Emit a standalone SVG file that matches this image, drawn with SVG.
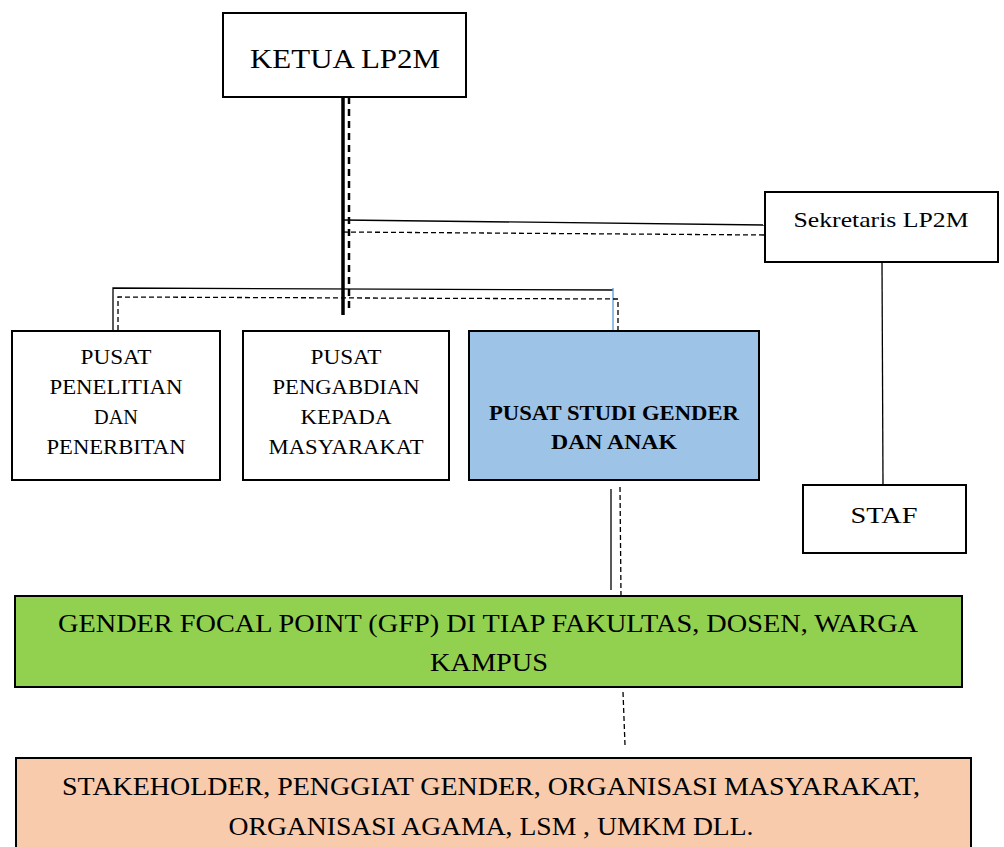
<svg xmlns="http://www.w3.org/2000/svg" width="1004" height="847" viewBox="0 0 1004 847">
<style>
.box{stroke:#000;stroke-width:2;fill:#fff}
.t{font-family:"Liberation Serif","DejaVu Serif",serif;fill:#000;text-anchor:middle}
.sl{stroke:#000;stroke-width:1.3;fill:none}
.dl{stroke:#000;stroke-width:1.3;fill:none;stroke-dasharray:5,3}
</style>
<rect width="1004" height="847" fill="#fff"/>
<g id="connectors">
<line x1="343" y1="97" x2="343" y2="315" stroke="#000" stroke-width="3.5"/>
<line x1="349" y1="97" x2="349" y2="313" stroke="#000" stroke-width="2.5" stroke-dasharray="7,5"/>
<line class="sl" x1="343" y1="220" x2="765" y2="225"/>
<line class="dl" x1="343" y1="232" x2="765" y2="235"/>
<polyline class="sl" points="113,330 113,288 613,290"/>
<line x1="613" y1="288" x2="613" y2="330" stroke="#5B9BD5" stroke-width="1.3"/>
<polyline class="dl" points="118,330 118,297 618,299 618,330"/>
<line class="sl" x1="882" y1="262" x2="883" y2="485"/>
<line class="sl" x1="611" y1="489" x2="611" y2="590"/>
<line class="dl" x1="620" y1="487" x2="621" y2="596"/>
<line class="dl" x1="623" y1="692" x2="625" y2="745"/>
</g>
<g id="ketua"><rect class="box" x="223" y="13" width="243" height="84"/><text class="t" x="345" y="68" font-size="28" textLength="190" lengthAdjust="spacingAndGlyphs">KETUA LP2M</text></g>
<g id="sekretaris"><rect class="box" x="765" y="192" width="233" height="70"/><text class="t" x="881" y="227" font-size="22" textLength="175" lengthAdjust="spacingAndGlyphs">Sekretaris LP2M</text></g>
<g id="staf"><rect class="box" x="803" y="485" width="163" height="68"/><text class="t" x="884" y="523" font-size="24" textLength="67" lengthAdjust="spacingAndGlyphs">STAF</text></g>
<g id="penelitian"><rect class="box" x="12" y="331" width="208" height="149"/><text class="t" font-size="20"><tspan x="116" y="364" textLength="71" lengthAdjust="spacingAndGlyphs">PUSAT</tspan><tspan x="116" y="394" textLength="133" lengthAdjust="spacingAndGlyphs">PENELITIAN</tspan><tspan x="116" y="424" textLength="44" lengthAdjust="spacingAndGlyphs">DAN</tspan><tspan x="116" y="454" textLength="139" lengthAdjust="spacingAndGlyphs">PENERBITAN</tspan></text></g>
<g id="pengabdian"><rect class="box" x="243" y="331" width="206" height="149"/><text class="t" font-size="20"><tspan x="346" y="364" textLength="71" lengthAdjust="spacingAndGlyphs">PUSAT</tspan><tspan x="346" y="394" textLength="147" lengthAdjust="spacingAndGlyphs">PENGABDIAN</tspan><tspan x="346" y="424" textLength="91" lengthAdjust="spacingAndGlyphs">KEPADA</tspan><tspan x="346" y="454" textLength="155" lengthAdjust="spacingAndGlyphs">MASYARAKAT</tspan></text></g>
<g id="psga"><rect class="box" x="469" y="331" width="290" height="149" style="fill:#9DC3E6"/><text class="t" font-size="20" font-weight="bold"><tspan x="614" y="420" textLength="250" lengthAdjust="spacingAndGlyphs">PUSAT STUDI GENDER</tspan><tspan x="614" y="449" textLength="126" lengthAdjust="spacingAndGlyphs">DAN ANAK</tspan></text></g>
<g id="gfp"><rect class="box" x="15" y="596" width="947" height="91" style="fill:#92D050"/><text class="t" font-size="25"><tspan x="488" y="632" textLength="860" lengthAdjust="spacingAndGlyphs">GENDER FOCAL POINT (GFP) DI TIAP FAKULTAS, DOSEN, WARGA</tspan><tspan x="489" y="671" textLength="118" lengthAdjust="spacingAndGlyphs">KAMPUS</tspan></text></g>
<g id="stakeholder"><rect class="box" x="16" y="758" width="955" height="95" style="fill:#F8CBAD"/><text class="t" font-size="25"><tspan x="491" y="795" textLength="858" lengthAdjust="spacingAndGlyphs">STAKEHOLDER, PENGGIAT GENDER, ORGANISASI MASYARAKAT,</tspan><tspan x="491" y="835" textLength="525" lengthAdjust="spacingAndGlyphs">ORGANISASI AGAMA, LSM , UMKM DLL.</tspan></text></g>
</svg>
